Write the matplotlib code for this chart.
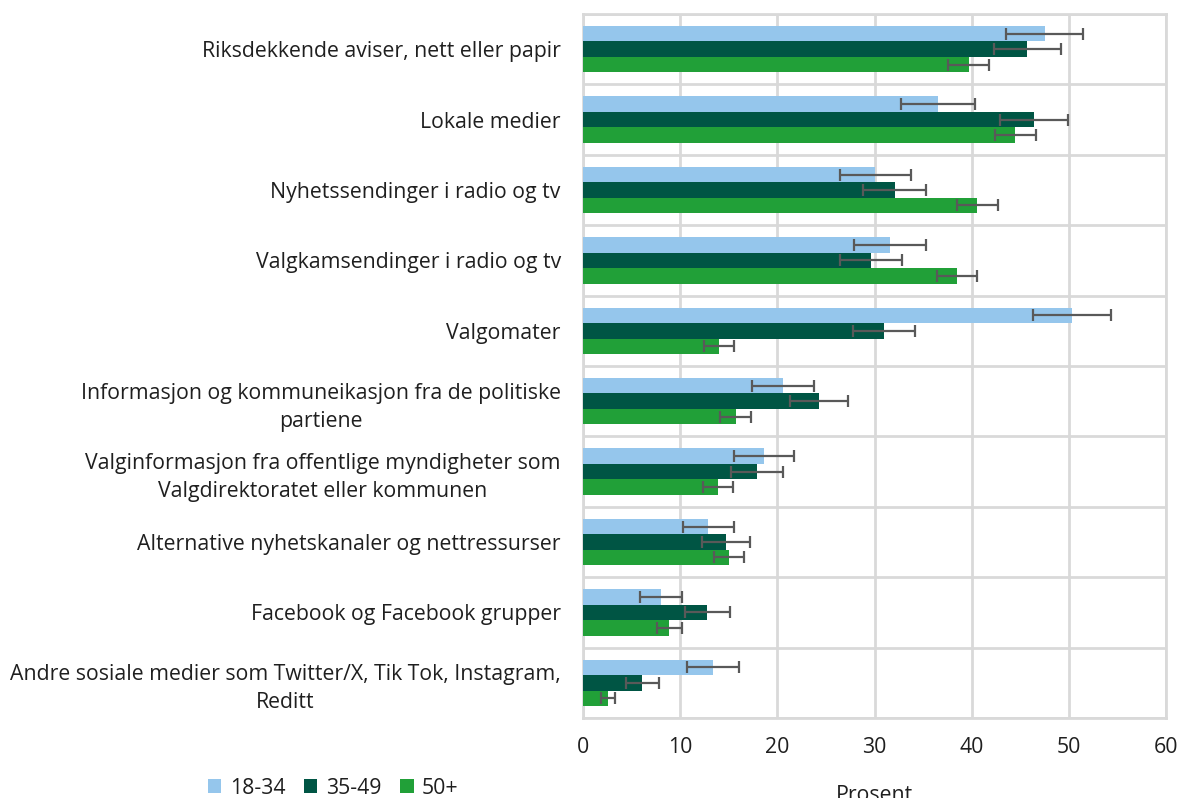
import matplotlib
matplotlib.use("Agg")
import matplotlib.pyplot as plt
import numpy as np

plt.rcParams['font.family'] = ['Open Sans', 'DejaVu Sans']

categories = [
    "Riksdekkende aviser, nett eller papir",
    "Lokale medier",
    "Nyhetssendinger i radio og tv",
    "Valgkamsendinger i radio og tv",
    "Valgomater",
    "Informasjon og kommuneikasjon fra de politiske\npartiene",
    "Valginformasjon fra offentlige myndigheter som\nValgdirektoratet eller kommunen",
    "Alternative nyhetskanaler og nettressurser",
    "Facebook og Facebook grupper",
    "Andre sosiale medier som Twitter/X, Tik Tok, Instagram,\nReditt",
]
series_names = ["18-34", "35-49", "50+"]

v_18_34 = [47.5, 36.5, 30.1, 31.6, 50.3, 20.6, 18.6, 12.9, 8.0, 13.4]
v_35_49 = [45.7, 46.4, 32.1, 29.6, 31.0, 24.3, 17.9, 14.7, 12.8, 6.1]
v_50p   = [39.7, 44.5, 40.6, 38.5, 14.0, 15.7, 13.9, 15.0, 8.9, 2.6]

e_18_34 = [4.0, 3.8, 3.65, 3.7, 4.0, 3.2, 3.1, 2.65, 2.15, 2.7]
e_35_49 = [3.45, 3.5, 3.25, 3.2, 3.2, 3.0, 2.65, 2.45, 2.3, 1.7]
e_50p   = [2.1, 2.15, 2.1, 2.1, 1.55, 1.6, 1.5, 1.55, 1.25, 0.7]

colors = ["#95C6EC", "#005544", "#21A038"]
x_ticks = [0, 10, 20, 30, 40, 50, 60]

fs = 15.3
fig = plt.figure(figsize=(11.89, 7.98), dpi=100)
ax = fig.add_axes([583/1189, 1-718/798, (1166-583)/1189, (718-14)/798])

y = np.arange(len(categories))
h = 0.22
offsets = [-h, 0, h]
vals = [v_18_34, v_35_49, v_50p]
errs = [e_18_34, e_35_49, e_50p]
handles = []
for k in range(3):
    b = ax.barh(y + offsets[k], vals[k], height=h, color=colors[k],
                label=series_names[k], zorder=3)
    ax.errorbar(vals[k], y + offsets[k], xerr=errs[k], fmt='none',
                ecolor='#595959', elinewidth=1.6, capsize=4, capthick=1.6,
                zorder=4)
    handles.append(b)

ax.set_xlim(0, 60)
ax.set_ylim(len(categories) - 0.5, -0.5)
ax.set_xticks(x_ticks)
ax.set_xticklabels([str(t) for t in x_ticks])
ax.set_yticks(y)
ax.set_yticklabels(categories, multialignment='center', linespacing=1.45)
ax.set_yticks(np.arange(-0.5, len(categories), 1.0), minor=True)

gridc = '#D9D9D9'
ax.grid(axis='x', which='major', color=gridc, linewidth=2.0, zorder=0)
ax.grid(axis='y', which='minor', color=gridc, linewidth=2.0, zorder=0)
ax.set_axisbelow(True)
for s in ax.spines.values():
    s.set_color(gridc)
    s.set_linewidth(2.0)

txtc = '#1F1F1F'
ax.tick_params(axis='both', which='both', length=0, colors=txtc, labelsize=fs)
ax.tick_params(axis='x', pad=14)
ax.tick_params(axis='y', pad=16)

ax.set_xlabel("Prosent", fontsize=fs, color=txtc, labelpad=19)

fig.legend(handles, series_names, loc='center left',
           bbox_to_anchor=(208/1189, 1-788/798), ncol=3, frameon=False,
           fontsize=fs, handlelength=0.62, handleheight=0.62,
           handletextpad=0.4, columnspacing=0.9, labelcolor=txtc,
           borderaxespad=0, borderpad=0)

fig.savefig("out.png", dpi=100, facecolor='white')
